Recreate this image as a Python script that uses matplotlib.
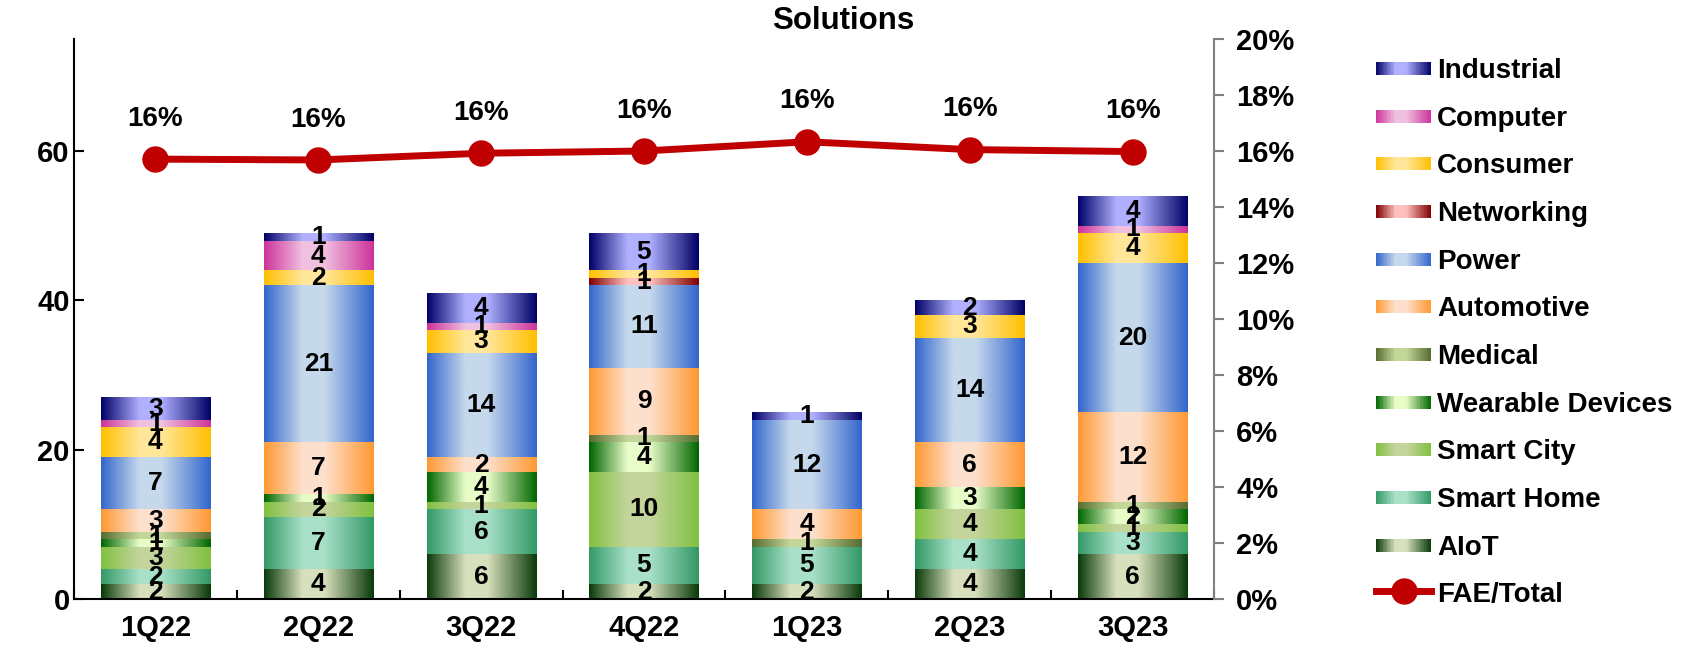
import numpy as np
import matplotlib
matplotlib.use("Agg")
import matplotlib.pyplot as plt
from matplotlib.colors import LinearSegmentedColormap
from matplotlib.patches import Rectangle
from matplotlib.legend_handler import HandlerBase
from matplotlib.ticker import FixedLocator, PercentFormatter

plt.rcParams['font.family'] = ['Liberation Sans', 'DejaVu Sans']
plt.rcParams['font.weight'] = 'bold'

quarters = ['1Q22', '2Q22', '3Q22', '4Q22', '1Q23', '2Q23', '3Q23']

# segments, bottom to top
aiot       = [2, 4, 6, 2, 2, 4, 6]
smart_home = [2, 7, 6, 5, 5, 4, 3]
smart_city = [3, 2, 1, 10, 0, 4, 1]
wearable   = [1, 1, 4, 4, 0, 3, 2]
medical    = [1, 0, 0, 1, 1, 0, 1]
automotive = [3, 7, 2, 9, 4, 6, 12]
power      = [7, 21, 14, 11, 12, 14, 20]
networking = [0, 0, 0, 1, 0, 0, 0]
consumer   = [4, 2, 3, 1, 0, 3, 4]
computer   = [1, 4, 1, 0, 0, 0, 1]
industrial = [3, 1, 4, 5, 1, 2, 4]

fae_total = [0.1571, 0.1568, 0.1592, 0.1600, 0.1633, 0.1605, 0.1598]
fae_labels = ['16%'] * 7

series = [
    ('AIoT', aiot, '#0a3a0a', '#d7e0bc'),
    ('Smart Home', smart_home, '#339966', '#a8e0c8'),
    ('Smart City', smart_city, '#80c040', '#c4d59c'),
    ('Wearable Devices', wearable, '#006600', '#e8fcc8'),
    ('Medical', medical, '#556b2f', '#c4d79b'),
    ('Automotive', automotive, '#ff9933', '#fde0cc'),
    ('Power', power, '#3366cc', '#c6d9ec'),
    ('Networking', networking, '#7f0000', '#ffc0c0'),
    ('Consumer', consumer, '#ffc000', '#ffe699'),
    ('Computer', computer, '#cc3399', '#f0c0e0'),
    ('Industrial', industrial, '#000066', '#b0b0ff'),
]

TICK_FS = 21
BAR_FS = 19
LEG_FS = 20


def shade_map(edge, mid):
    return LinearSegmentedColormap.from_list(
        'shade', [(0, edge), (0.35, mid), (0.55, mid), (1, edge)])


class ShadeHandler(HandlerBase):
    # legend key drawn as thin vertical strips of the gradient
    def create_artists(self, legend, orig_handle, xdescent, ydescent,
                       width, height, fontsize, trans):
        cmap = orig_handle.shade_cmap
        n = 40
        hh = 13 * 72 / 100
        y0 = -ydescent + (height - hh) / 2
        strips = []
        for i in range(n):
            r = Rectangle((-xdescent + width * i / n, y0), width / n * 1.05, hh,
                          facecolor=cmap((i + 0.5) / n), edgecolor='none',
                          transform=trans)
            strips.append(r)
        return strips


fig = plt.figure(figsize=(16.86, 6.5), dpi=100)
ax = fig.add_axes([74 / 1686, 1 - 599 / 650, (1214 - 74) / 1686, (599 - 39) / 650])
ax2 = ax.twinx()

x = np.arange(len(quarters))
width = 0.67
grad = np.linspace(0, 1, 256).reshape(1, -1)
bottom = np.zeros(len(quarters))
handles = []

for name, vals, edge, mid in series:
    vals = np.array(vals, dtype=float)
    cmap = shade_map(edge, mid)
    bars = ax.bar(x, vals, width, bottom=bottom, color='none', edgecolor='none',
                  label=name)
    for patch, v in zip(bars.patches, vals):
        if v <= 0:
            continue
        x0, y0 = patch.get_x(), patch.get_y()
        im = ax.imshow(grad, cmap=cmap, aspect='auto', interpolation='bilinear',
                       extent=[x0, x0 + patch.get_width(), y0, y0 + v], zorder=2)
        im.set_clip_path(patch)
        ax.text(x0 + patch.get_width() / 2, y0 + v / 2, f'{int(v)}',
                ha='center', va='center', fontsize=BAR_FS, fontweight='bold', zorder=3)
    h = Rectangle((0, 0), 1, 1)
    h.shade_cmap = cmap
    handles.append((h, name))
    bottom += vals

ax.set_xlim(-0.5, len(quarters) - 0.5)
ax.set_ylim(0, 75)
ax.set_yticks([0, 20, 40, 60])
ax.set_xticks(x)
ax.set_xticklabels(quarters)
ax.xaxis.set_minor_locator(FixedLocator(np.arange(-0.5, len(quarters), 1)))
ax.tick_params(axis='x', which='major', length=0, pad=11, labelsize=TICK_FS)
ax.tick_params(axis='x', which='minor', direction='in', length=6.5, width=1.5)
ax.tick_params(axis='y', direction='in', length=7, width=1.5, pad=3, labelsize=TICK_FS)
for s in ['top', 'right']:
    ax.spines[s].set_visible(False)
ax.spines['left'].set_linewidth(1.5)
ax.spines['bottom'].set_linewidth(1.5)

# FAE share on the right axis
line, = ax2.plot(x, fae_total, color='#c00000', lw=5, marker='o', markersize=18,
                 zorder=5, label='FAE/Total')
for xi, yi, lab in zip(x, fae_total, fae_labels):
    ax2.annotate(lab, (xi, yi), xytext=(0, 29), textcoords='offset points',
                 ha='center', va='center', fontsize=20, fontweight='bold')
ax2.set_ylim(0, 0.2)
ax2.set_yticks(np.arange(0, 0.201, 0.02))
ax2.yaxis.set_major_formatter(PercentFormatter(1.0, decimals=0))
ax2.tick_params(axis='y', direction='out', length=7, width=1.5, color='#808080',
                pad=9, labelsize=TICK_FS)
for s in ['top', 'left', 'bottom']:
    ax2.spines[s].set_visible(False)
ax2.spines['right'].set_color('#808080')
ax2.spines['right'].set_linewidth(1.5)

leg_handles = [h for h, _ in handles][::-1] + [line]
leg_labels = [n for _, n in handles][::-1] + ['FAE/Total']
hmap = {h: ShadeHandler() for h, _ in handles}
fig.legend(leg_handles, leg_labels, handler_map=hmap, loc='upper left',
           bbox_to_anchor=(1376 / 1686, 1 - 56 / 650), frameon=False,
           borderpad=0, borderaxespad=0, handlelength=1.98, handleheight=1.0,
           handletextpad=0.22, labelspacing=0.71, prop={'size': LEG_FS, 'weight': 'bold'})

fig.text(0.5, 1 - 21 / 650, 'Solutions', ha='center', va='center',
         fontsize=22.5, fontweight='bold')

fig.savefig('out.png', dpi=100)
